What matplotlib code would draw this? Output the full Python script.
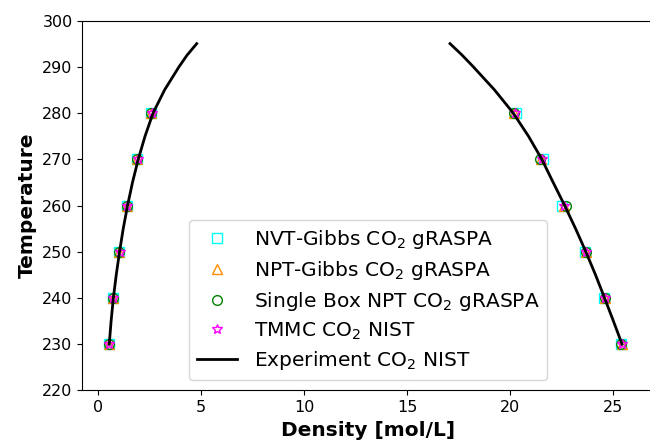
import numpy as np
import matplotlib
matplotlib.use('Agg')
import matplotlib.pyplot as plt

# saturation temperatures of the simulated points [K]
temps = [230, 240, 250, 260, 270, 280]

# coexisting densities [mol/L], vapor then liquid, one set per method
nvt_vap = [0.52, 0.70, 1.01, 1.38, 1.88, 2.56]
nvt_liq = [25.42, 24.58, 23.66, 22.52, 21.62, 20.28]
npt_vap = [0.52, 0.70, 1.02, 1.39, 1.90, 2.57]
npt_liq = [25.45, 24.60, 23.70, 22.62, 21.52, 20.22]
box_vap = [0.51, 0.71, 1.00, 1.37, 1.88, 2.55]
box_liq = [25.40, 24.62, 23.68, 22.72, 21.45, 20.20]
tmmc_vap = [0.53, 0.72, 1.03, 1.40, 1.91, 2.59]
tmmc_liq = [25.44, 24.61, 23.69, 22.62, 21.55, 20.25]

# experimental coexistence curve
exp_temps = [230, 235, 240, 245, 250, 255, 260, 265, 270, 275, 280, 285, 290, 292.5, 295]
exp_vap = [0.53, 0.62, 0.73, 0.87, 1.03, 1.21, 1.42, 1.66, 1.94, 2.27, 2.66,
           3.22, 3.92, 4.31, 4.78]
exp_liq = [25.45, 25.03, 24.60, 24.16, 23.69, 23.19, 22.66, 22.10, 21.55, 20.90, 20.16,
           19.25, 18.22, 17.68, 17.09]

fig = plt.figure(figsize=(6.5, 4.44), dpi=100)
# axes run past the right edge of the saved picture
ax = fig.add_axes([0.1266, 0.1205, 0.8795, 0.8333])

T2 = temps + temps
ms = 7
ax.plot(nvt_vap + nvt_liq, T2, 's', color='cyan', mfc='none', ms=ms,
        label='NVT-Gibbs CO$_2$ gRASPA')
ax.plot(npt_vap + npt_liq, T2, '^', color='darkorange', mfc='none', ms=ms,
        label='NPT-Gibbs CO$_2$ gRASPA')
ax.plot(box_vap + box_liq, T2, 'o', color='green', mfc='none', ms=ms,
        label='Single Box NPT CO$_2$ gRASPA')
ax.plot(tmmc_vap + tmmc_liq, T2, '*', color='magenta', mfc='none', ms=ms,
        label='TMMC CO$_2$ NIST')
ax.plot(exp_vap, exp_temps, '-', color='black', lw=2, label='Experiment CO$_2$ NIST')
ax.plot(exp_liq, exp_temps, '-', color='black', lw=2)

ax.set_xlim(-0.78, 27.0)
ax.set_ylim(220, 300)
ax.set_xticks([0, 5, 10, 15, 20, 25])
ax.spines['right'].set_visible(False)
ax.tick_params(labelsize=11.5)
ax.set_xlabel('Density [mol/L]', fontsize=14.5, fontweight='bold')
ax.set_ylabel('Temperature', fontsize=14.5, fontweight='bold')
ax.legend(loc='lower center', fontsize=14.5, labelspacing=0.38)

fig.savefig('out.png', dpi=100)
